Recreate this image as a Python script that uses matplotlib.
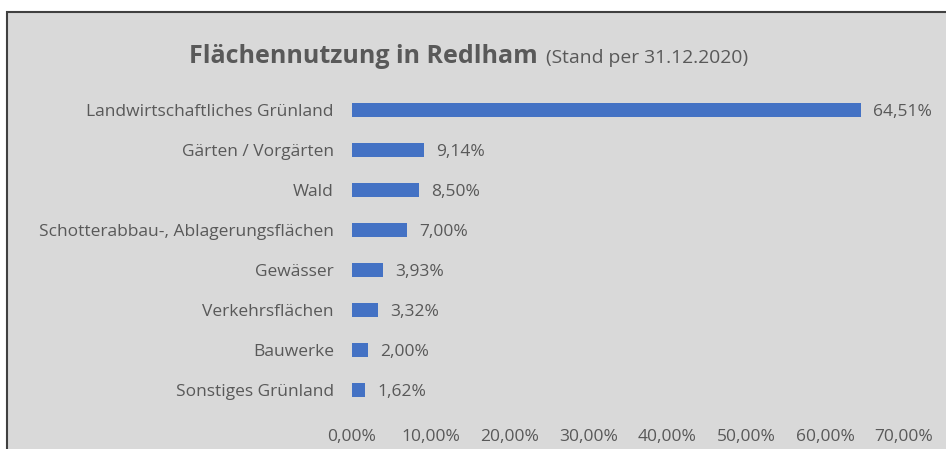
import matplotlib.pyplot as plt
from matplotlib.patches import Rectangle
from matplotlib.ticker import FuncFormatter

plt.rcParams['font.family'] = ['Open Sans', 'DejaVu Sans']

# Daten
kategorien = ['Landwirtschaftliches Grünland', 'Gärten / Vorgärten', 'Wald',
              'Schotterabbau-, Ablagerungsflächen', 'Gewässer', 'Verkehrsflächen',
              'Bauwerke', 'Sonstiges Grünland']
anteile = [64.51, 9.14, 8.50, 7.00, 3.93, 3.32, 2.00, 1.62]
x_ticks = [0, 10, 20, 30, 40, 50, 60, 70]

grau = '#595959'
blau = '#4472c4'

fig = plt.figure(figsize=(9.46, 4.49), dpi=100)
fig.patch.set_facecolor('white')
# Hintergrund mit Rahmen (oben und links sichtbar)
fig.patches.append(Rectangle((7 / 946, -0.1), 1.0, 1 - 12 / 449 + 0.1,
                             transform=fig.transFigure, facecolor='#d9d9d9',
                             edgecolor='#404040', linewidth=1.5, zorder=-1))

ax = fig.add_axes([352 / 946, 1 - 410 / 449, (904 - 352) / 946, 320 / 449])
ax.set_facecolor('none')
ax.set_zorder(1)

y = list(range(len(kategorien)))
ax.barh(y, anteile, height=0.35, color=blau)
ax.set_yticks(y)
ax.set_yticklabels(kategorien)
ax.set_ylim(len(kategorien) - 0.5, -0.5)
ax.set_xlim(0, 70)
ax.set_xticks(x_ticks)
ax.xaxis.set_major_formatter(FuncFormatter(lambda v, p: f'{v:.2f}%'.replace('.', ',')))

for s in ax.spines.values():
    s.set_visible(False)
ax.tick_params(axis='both', length=0, colors=grau, labelsize=12.5)
ax.tick_params(axis='x', pad=14)
ax.tick_params(axis='y', pad=13)

for yi, v in zip(y, anteile):
    ax.annotate(f'{v:.2f}%'.replace('.', ','), (v, yi), xytext=(9, -1.5),
                textcoords='offset points', va='center', ha='left',
                color=grau, fontsize=12.5)

fig.text(538 / 946, 1 - 63 / 449, 'Flächennutzung in Redlham', ha='right',
         va='baseline', fontsize=18, fontweight='bold', color=grau)
fig.text(546 / 946, 1 - 63 / 449, '(Stand per 31.12.2020)', ha='left',
         va='baseline', fontsize=13.9, color=grau)

fig.savefig('out.png', dpi=100)
